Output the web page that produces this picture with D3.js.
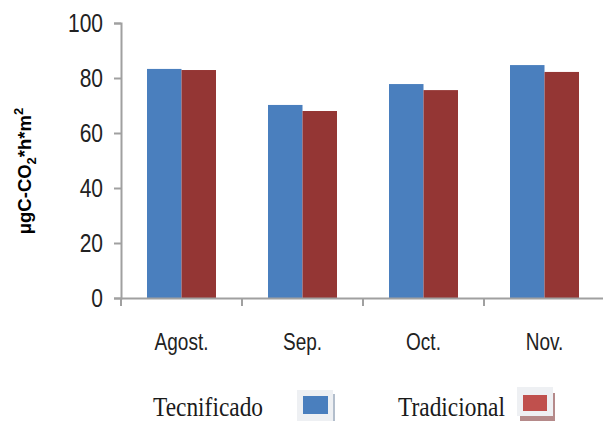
<!DOCTYPE html>
<html>
<head>
<meta charset="utf-8">
<script src="https://cdn.jsdelivr.net/npm/d3@7"></script>
<style>
html,body{margin:0;padding:0;background:#fff;}
svg{display:block;}
</style>
</head>
<body>
<svg id="chart" width="603" height="421"></svg>
<script>
const categories = ["Agost.", "Sep.", "Oct.", "Nov."];
const seriesNames = ["Tecnificado", "Tradicional"];
const tecnificado = [83.3, 70.2, 77.8, 84.7];
const tradicional = [82.9, 68.0, 75.6, 82.2];
const yTicks = [0, 20, 40, 60, 80, 100];
const colors = ["#4a7fbe", "#943634"];

(function () {
const svg = d3.select("#chart");
const pLeft = 121, pRight = 605, pTop = 23, pBottom = 298;

const x0 = d3.scaleBand().domain(categories).range([pLeft, pRight]).padding(0);
const x1 = d3.scaleBand().domain(seriesNames).range([0, x0.bandwidth()]).paddingInner(0).paddingOuter(0.754);
const y = d3.scaleLinear().domain([0, 100]).range([pBottom, pTop]);

const data = categories.map((c, i) => ({cat: c, vals: [tecnificado[i], tradicional[i]]}));

// bars
const g = svg.append("g");
data.forEach(d => {
  d.vals.forEach((v, j) => {
    g.append("rect")
      .attr("x", x0(d.cat) + x1(seriesNames[j]))
      .attr("y", y(v))
      .attr("width", x1.bandwidth())
      .attr("height", y(0) - y(v))
      .attr("fill", colors[j]);
  });
});

const axisColor = "#a0a0a0";
const sans = "'Liberation Sans', Arial, sans-serif";

// y axis
const yAxis = d3.axisLeft(y).tickValues(yTicks).tickSize(7).tickFormat(() => "");
const ya = svg.append("g").attr("transform", `translate(${pLeft},0)`).call(yAxis);
ya.select(".domain").attr("stroke", axisColor).attr("stroke-width", 2);
ya.selectAll(".tick line").attr("stroke", axisColor).attr("stroke-width", 2);
svg.append("g").selectAll("text").data(yTicks).enter().append("text")
  .attr("transform", d => `translate(103,${y(d) + 8.5}) scale(1,1.2)`)
  .attr("text-anchor", "end")
  .attr("fill", "#222")
  .style("font-family", sans).style("font-size", "21px")
  .text(d => d);

// x axis
const xAxis = d3.axisBottom(x0).tickSize(0).tickFormat(() => "");
const xa = svg.append("g").attr("transform", `translate(0,${pBottom})`).call(xAxis);
xa.select(".domain").attr("stroke", axisColor).attr("stroke-width", 2);
const bounds = categories.map(c => x0(c));
xa.selectAll(".bt").data(bounds).enter().append("line")
  .attr("x1", d => d).attr("x2", d => d).attr("y1", 0).attr("y2", 8)
  .attr("stroke", axisColor).attr("stroke-width", 2);
svg.append("g").selectAll("text").data(categories).enter().append("text")
  .attr("transform", d => `translate(${x0(d) + x0.bandwidth() / 2},350) scale(1,1.25)`)
  .attr("text-anchor", "middle")
  .attr("fill", "#222")
  .style("font-family", sans).style("font-size", "19px")
  .text(d => d);

// y axis title
const title = svg.append("text")
  .attr("transform", "translate(31,171) rotate(-90)")
  .attr("text-anchor", "middle")
  .attr("fill", "#000")
  .style("font-family", sans).style("font-size", "18.5px").style("font-weight", "bold");
title.append("tspan").text("μgC-CO");
title.append("tspan").attr("dy", 5).style("font-size", "13px").text("2");
title.append("tspan").attr("dy", -5).text("*h*m");
title.append("tspan").attr("dy", -8).style("font-size", "13px").text("2");

// legend
const legendItems = [
  {name: seriesNames[0], tx: 153, box: 297, color: "#4a7fbe"},
  {name: seriesNames[1], tx: 398, box: 517, color: "#c0504d"}
];
legendItems.forEach((it, i) => {
  svg.append("text")
    .attr("transform", `translate(${it.tx},416) scale(1,1.18)`)
    .attr("fill", "#1a1a1a")
    .style("font-family", "'Liberation Serif', 'Times New Roman', serif").style("font-size", "23.4px")
    .text(it.name);
  if (i === 0) {
    svg.append("rect").attr("x", it.box).attr("y", 390).attr("width", 36).attr("height", 31).attr("fill", "#eef0f3");
    svg.append("line").attr("x1", 334).attr("x2", 334).attr("y1", 394).attr("y2", 421).attr("stroke", "#9aa8bb").attr("stroke-width", 1.5);
    svg.append("rect").attr("x", 303).attr("y", 396).attr("width", 25).attr("height", 18).attr("fill", it.color);
  } else {
    svg.append("rect").attr("x", 520).attr("y", 393).attr("width", 35).attr("height", 28).attr("fill", "#b58a8a");
    svg.append("rect").attr("x", it.box).attr("y", 387).attr("width", 36).attr("height", 29).attr("fill", "#eef0f3");
    svg.append("rect").attr("x", 523).attr("y", 395).attr("width", 24).attr("height", 16).attr("fill", it.color);
  }
});
})();
</script>
</body>
</html>
